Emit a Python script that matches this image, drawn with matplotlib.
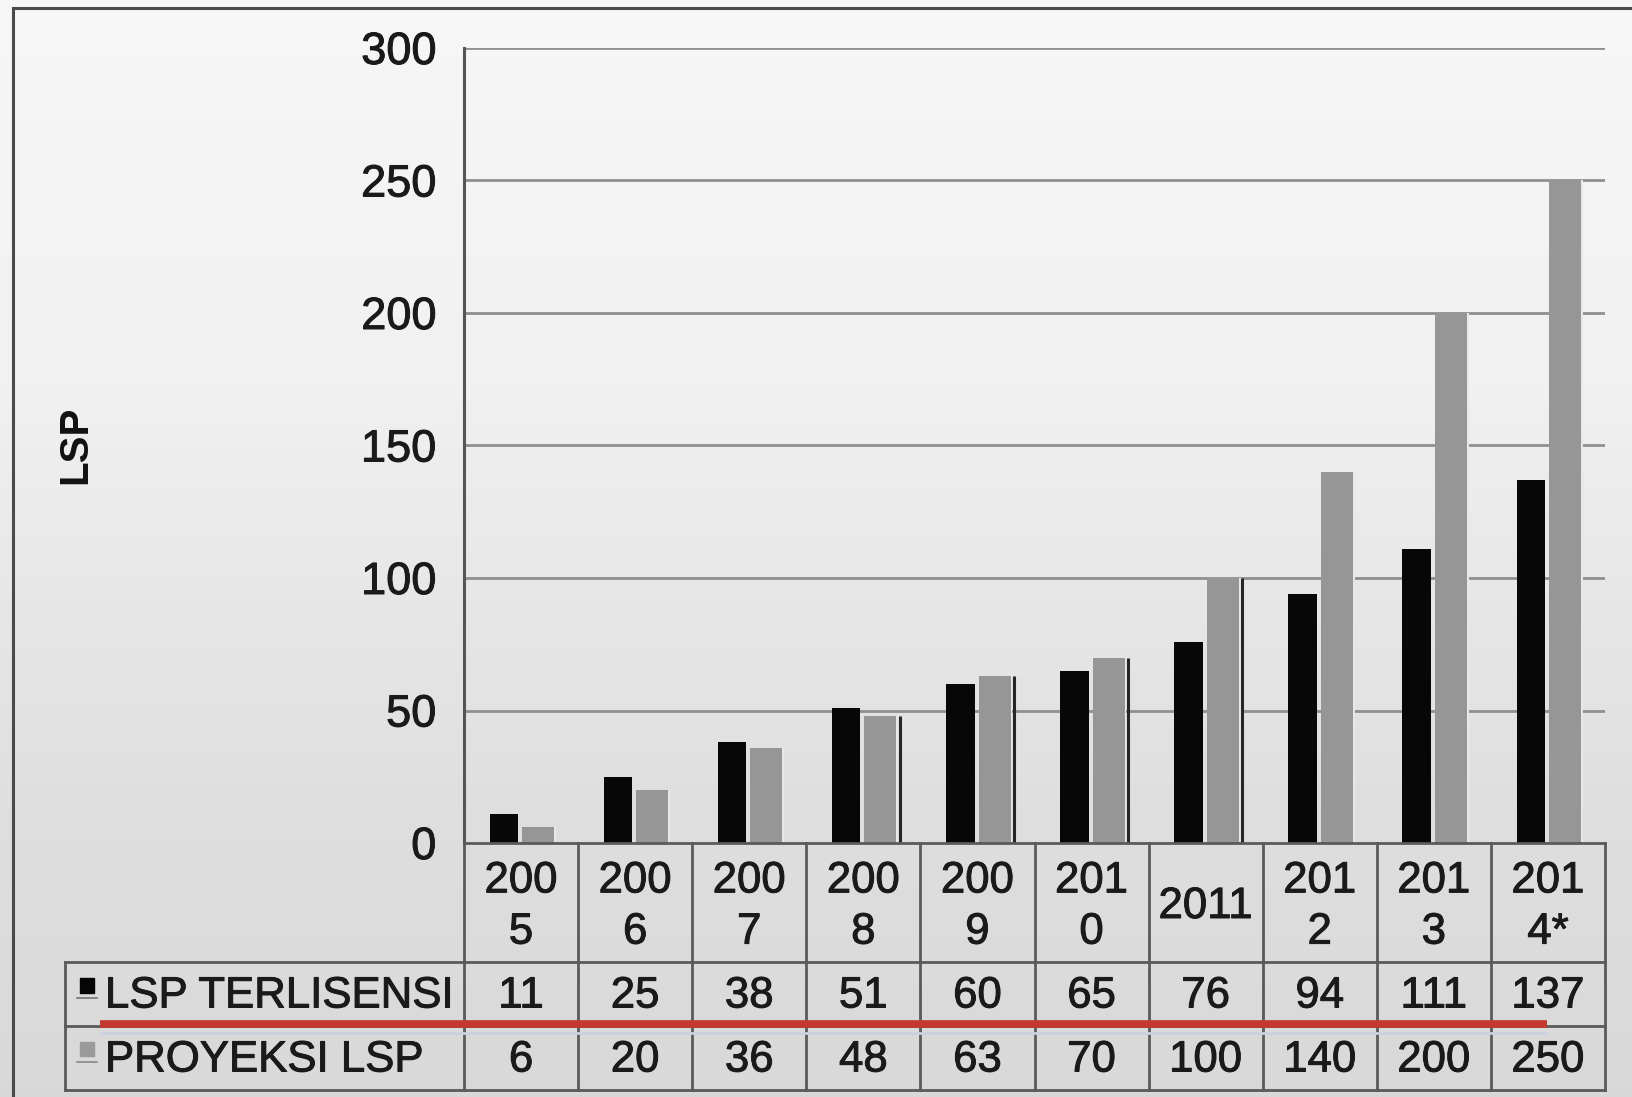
import numpy as np
import matplotlib
matplotlib.use("Agg")
import matplotlib.pyplot as plt
import matplotlib.patheffects as pe
from matplotlib.transforms import blended_transform_factory
from matplotlib.lines import Line2D
from matplotlib.patches import Rectangle

plt.rcParams['font.family'] = ['Liberation Sans', 'DejaVu Sans']

# --- data -------------------------------------------------------------
years = ["200\n5", "200\n6", "200\n7", "200\n8", "200\n9", "201\n0",
         "2011", "201\n2", "201\n3", "201\n4*"]
series_names = ["LSP TERLISENSI", "PROYEKSI LSP"]
lsp_terlisensi = [11, 25, 38, 51, 60, 65, 76, 94, 111, 137]
proyeksi_lsp = [6, 20, 36, 48, 63, 70, 100, 140, 200, 250]
y_ticks = [0, 50, 100, 150, 200, 250, 300]
y_label = "LSP"

# --- figure -----------------------------------------------------------
W, H = 1633, 1097
DPI = 100
fig = plt.figure(figsize=(W / DPI, H / DPI), dpi=DPI)


def fx(px):
    return px / W


def fy(py):
    return 1 - py / H


# slightly heavier glyph strokes
heavy = [pe.withStroke(linewidth=0.7, foreground='#1a1a1a')]

# soft vertical gradient background
bg = fig.add_axes([0, 0, 1, 1], zorder=-10)
stops_y = np.array([0.0, 0.35, 0.55, 0.75, 1.0])
stops_v = np.array([0.968, 0.945, 0.905, 0.872, 0.850])
yy = np.linspace(0, 1, 600)
grad = np.interp(yy, stops_y, stops_v)
img = np.repeat(grad[:, None], 4, axis=1)
bg.imshow(np.dstack([img, img, img]), aspect='auto', extent=[0, 1, 1, 0],
          interpolation='bilinear')
bg.set_xlim(0, 1)
bg.set_ylim(1, 0)
bg.axis('off')

# outer frame (left and top edges)
frame_col = '#4a4a4a'
fig.add_artist(Line2D([fx(13), fx(13)], [fy(8), fy(H + 5)], color=frame_col,
                      lw=2.2, transform=fig.transFigure))
fig.add_artist(Line2D([fx(13), fx(W + 5)], [fy(8), fy(8)], color=frame_col,
                      lw=2.2, transform=fig.transFigure))

# main plotting area
ax_l, ax_r, ax_t, ax_b = 464, 1605, 48, 843
ax = fig.add_axes([fx(ax_l), fy(ax_b), fx(ax_r - ax_l), fy(ax_t) - fy(ax_b)])
ax.set_facecolor('none')
n = len(years)
x = np.arange(n)
ax.set_xlim(-0.5, n - 0.5)
ax.set_ylim(0, 300)

grid_col = '#8f8f8f'
for t in y_ticks[1:]:
    ax.axhline(t, color=grid_col, lw=2.0, zorder=1)

black_w, gray_w = 0.25, 0.28
black_off, gray_off = -0.15, 0.15
ax.bar(x + black_off, lsp_terlisensi, width=black_w, color='#070707', zorder=3)
ax.bar(x + gray_off, proyeksi_lsp, width=gray_w, color='#969696', zorder=3)
# light highlight on the right side of the grey bars
ax.bar(x + gray_off + gray_w / 2 + 0.008, proyeksi_lsp, width=0.016,
       color='#e8e8e8', zorder=3)
# thin dark edge that follows the grey bars of 2008-2011
for i in range(3, 7):
    ax.vlines(i + gray_off + gray_w / 2 + 0.028, 0, proyeksi_lsp[i],
              color='#262626', lw=2.2, zorder=3)

for s in ['top', 'right', 'bottom']:
    ax.spines[s].set_visible(False)
ax.spines['left'].set_color('#555555')
ax.spines['left'].set_linewidth(2.2)
ax.set_xticks([])
ax.set_yticks(y_ticks)
ax.set_yticklabels([str(t) for t in y_ticks], fontsize=32.5, color='#1a1a1a')
for lab in ax.get_yticklabels():
    lab.set_path_effects(heavy)
ax.tick_params(axis='y', length=0, pad=20)

fig.text(fx(75), fy(445), y_label, rotation=90, ha='center', va='center',
         fontsize=29, fontweight='bold', color='#111111')

# --- data table under the bars ---------------------------------------
tr = blended_transform_factory(ax.transData, fig.transFigure)
tf = fig.transFigure
line_col = '#5a5a5a'
lw_tab = 2.0
row_top, row1, row2, row_bot = 843, 962, 1026, 1090
tab_left = 65

# horizontal lines
fig.add_artist(Line2D([fx(ax_l), fx(ax_r)], [fy(row_top)] * 2, color=line_col,
                      lw=lw_tab, transform=tf))
for py in (row1, row2, row_bot):
    fig.add_artist(Line2D([fx(tab_left), fx(ax_r)], [fy(py)] * 2,
                          color=line_col, lw=lw_tab, transform=tf))
# vertical lines
for b in np.arange(-0.5, n + 0.5, 1.0):
    fig.add_artist(Line2D([b, b], [fy(row_top), fy(row_bot)], color=line_col,
                          lw=lw_tab, transform=tr))
fig.add_artist(Line2D([fx(tab_left), fx(tab_left)], [fy(row1), fy(row_bot)],
                      color=line_col, lw=lw_tab, transform=tf))

txt_col = '#1a1a1a'
fs_tab = 31.5
for i, lab in enumerate(years):
    fig.text(i, fy((row_top + row1) / 2 + 4), lab, transform=tr, ha='center',
             va='center', fontsize=fs_tab, color=txt_col, linespacing=1.32,
             path_effects=heavy)
    fig.text(i, fy((row1 + row2) / 2 + 2), str(lsp_terlisensi[i]),
             transform=tr, ha='center', va='center', fontsize=fs_tab,
             color=txt_col, path_effects=heavy)
    fig.text(i, fy((row2 + row_bot) / 2 + 2), str(proyeksi_lsp[i]),
             transform=tr, ha='center', va='center', fontsize=fs_tab,
             color=txt_col, path_effects=heavy)

# row headers with their legend keys
fig.text(fx(105), fy((row1 + row2) / 2 + 2), series_names[0], ha='left',
         va='center', fontsize=fs_tab, color=txt_col, path_effects=heavy)
fig.text(fx(105), fy((row2 + row_bot) / 2 + 2), series_names[1], ha='left',
         va='center', fontsize=fs_tab, color=txt_col, path_effects=heavy)
fig.add_artist(Rectangle((fx(80), fy(993)), fx(14), fy(978) - fy(993),
                         color='#050505', transform=tf))
fig.add_artist(Line2D([fx(77), fx(97)], [fy(998)] * 2, color='#777777', lw=1.2,
                      transform=tf))
fig.add_artist(Rectangle((fx(80), fy(1056)), fx(14), fy(1042) - fy(1056),
                         color='#9a9a9a', transform=tf))
fig.add_artist(Line2D([fx(77), fx(97)], [fy(1062)] * 2, color='#888888',
                      lw=1.2, transform=tf))

# red underline beneath the first row
fig.add_artist(Line2D([fx(100), fx(1547)], [fy(1033)] * 2, color='#c9d3de',
                      lw=2.0, transform=tf, solid_capstyle='butt'))
fig.add_artist(Line2D([fx(100), fx(1547)], [fy(1023.5)] * 2, color='#c4392e',
                      lw=5.5, transform=tf, solid_capstyle='butt'))

fig.savefig("out.png", dpi=DPI)
